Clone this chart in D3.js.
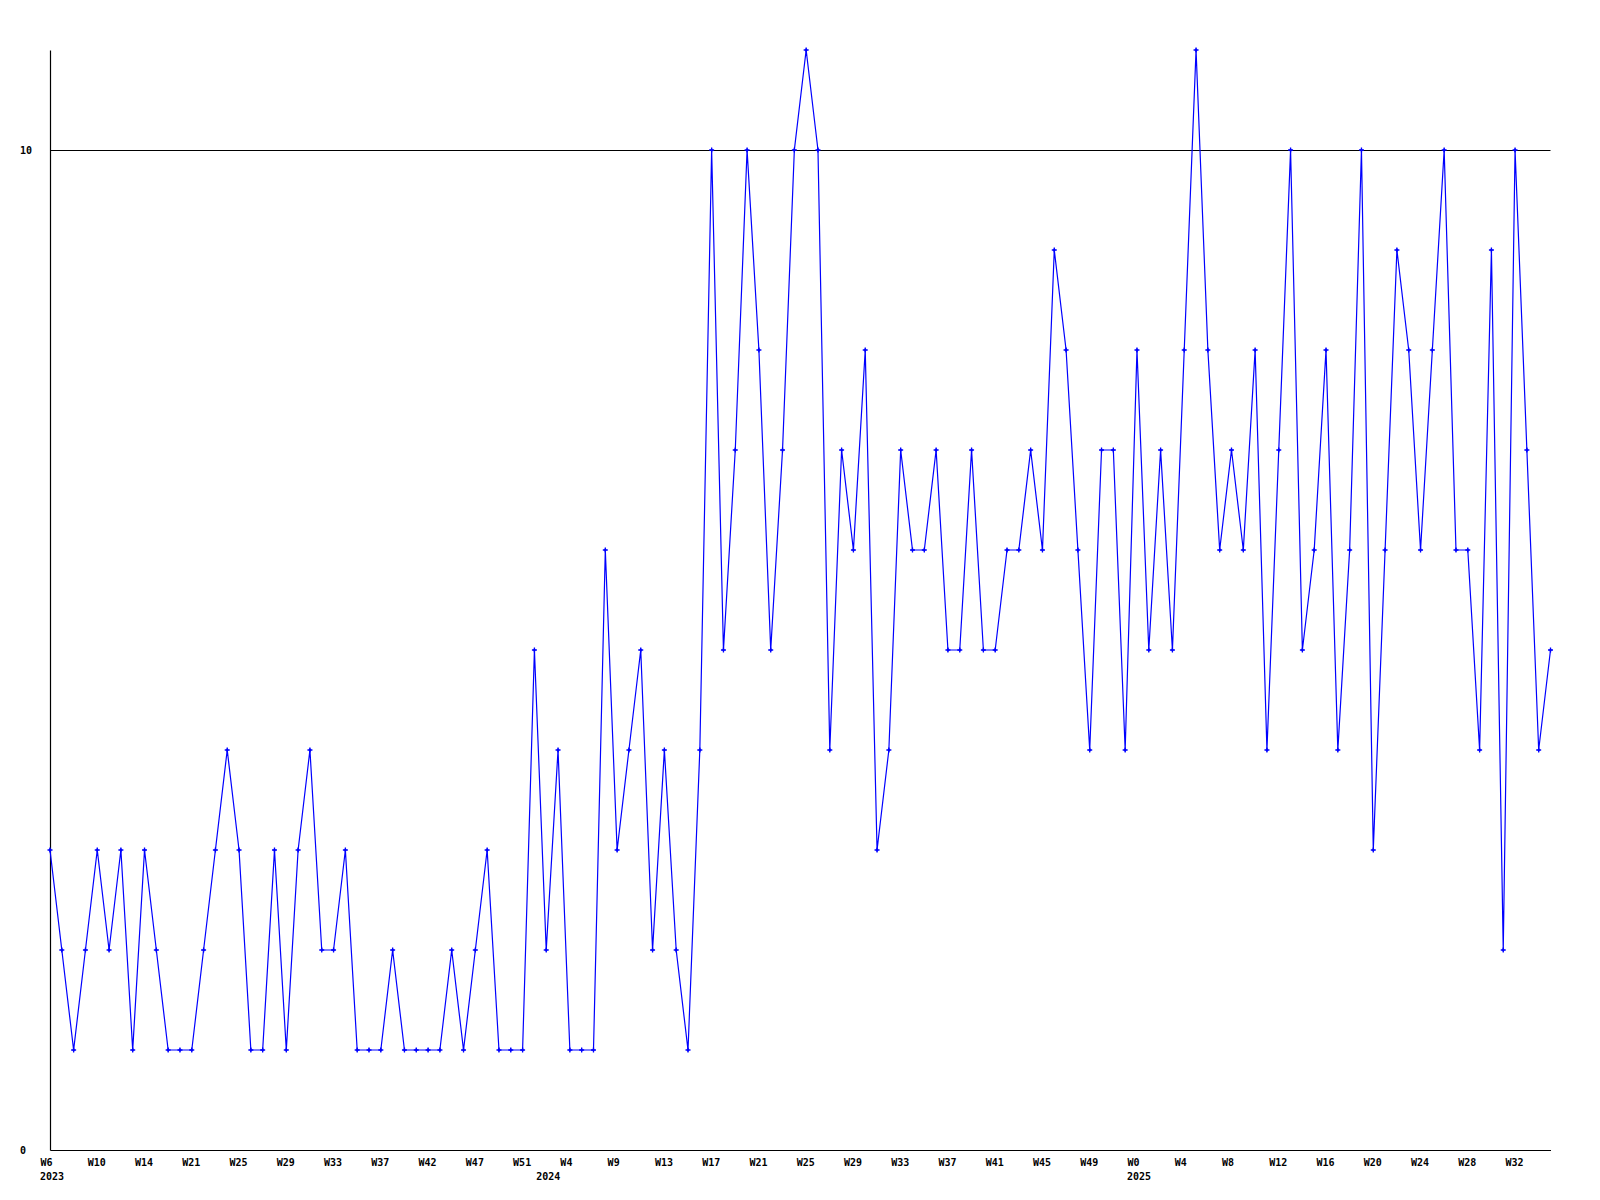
<!DOCTYPE html>
<html>
<head>
<meta charset="utf-8">
<script src="https://cdn.jsdelivr.net/npm/d3@7"></script>
<style>
  html, body { margin: 0; padding: 0; background: #fff; }
  svg { display: block; }
  text { font-family: "DejaVu Sans Mono", monospace; font-weight: bold; font-size: 10px; fill: #000; }
</style>
</head>
<body>
<svg id="chart" width="1600" height="1200"></svg>
<script>
// ---- data ----
const categories = [
  "2023-W6","2023-W7","2023-W8","2023-W9","2023-W10","2023-W11","2023-W12","2023-W13","2023-W14","2023-W18",
  "2023-W19","2023-W20","2023-W21","2023-W22","2023-W23","2023-W24","2023-W25","2023-W26","2023-W27","2023-W28",
  "2023-W29","2023-W30","2023-W31","2023-W32","2023-W33","2023-W34","2023-W35","2023-W36","2023-W37","2023-W38",
  "2023-W39","2023-W41","2023-W42","2023-W44","2023-W45","2023-W46","2023-W47","2023-W48","2023-W49","2023-W50",
  "2023-W51","2023-W52",
  "2024-W1","2024-W2","2024-W4","2024-W6","2024-W7","2024-W8","2024-W9","2024-W10","2024-W11","2024-W12",
  "2024-W13","2024-W14","2024-W15","2024-W16","2024-W17","2024-W18","2024-W19","2024-W20","2024-W21","2024-W22",
  "2024-W23","2024-W24","2024-W25","2024-W26","2024-W27","2024-W28","2024-W29","2024-W30","2024-W31","2024-W32",
  "2024-W33","2024-W34","2024-W35","2024-W36","2024-W37","2024-W38","2024-W39","2024-W40","2024-W41","2024-W42",
  "2024-W43","2024-W44","2024-W45","2024-W46","2024-W47","2024-W48","2024-W49","2024-W50","2024-W51","2024-W52",
  "2025-W0","2025-W1","2025-W2","2025-W3","2025-W4","2025-W5","2025-W6","2025-W7","2025-W8","2025-W9",
  "2025-W10","2025-W11","2025-W12","2025-W13","2025-W14","2025-W15","2025-W16","2025-W17","2025-W18","2025-W19",
  "2025-W20","2025-W21","2025-W22","2025-W23","2025-W24","2025-W25","2025-W26","2025-W27","2025-W28","2025-W29",
  "2025-W30","2025-W31","2025-W32","2025-W33","2025-W34","2025-W35"
];

const values = [
  3,2,1,2,3,2,3,1,3,2,
  1,1,1,2,3,4,3,1,1,3,
  1,3,4,2,2,3,1,1,1,2,
  1,1,1,1,2,1,2,3,1,1,
  1,5,2,4,1,1,1,6,3,4,
  5,2,4,2,1,4,10,5,7,10,
  8,5,7,10,11,10,4,7,6,8,
  3,4,7,6,6,7,5,5,7,5,
  5,6,6,7,6,9,8,6,4,7,
  7,4,8,5,7,5,8,11,8,6,
  7,6,8,4,7,10,5,6,8,4,
  6,10,3,6,9,8,6,8,10,6,
  6,4,9,2,10,7,4,5
];

const yTickValues = [0, 10];
const gridValues = [10];
const xTickEvery = 4;

// ---- chart ----
(function () {
const svg = d3.select("#chart");
const mLeft = 50, mRight = 1550.5, mTop = 50, mBottom = 1150;

const x = d3.scalePoint().domain(categories).range([mLeft, mRight]);
const y = d3.scaleLinear().domain([0, 11]).range([mBottom, mTop]);

// grid line
svg.append("g").selectAll("line").data(gridValues).join("line")
  .attr("x1", mLeft).attr("x2", mRight)
  .attr("y1", d => Math.round(y(d)) + 0.5).attr("y2", d => Math.round(y(d)) + 0.5)
  .attr("stroke", "#000").attr("stroke-width", 1);

// x axis
const xTicks = categories.filter((d, i) => i % xTickEvery === 0);
const xAxis = d3.axisBottom(x).tickValues(xTicks).tickSize(0).tickSizeOuter(0)
  .tickFormat(d => d.split("-")[1]);
const gx = svg.append("g").attr("transform", `translate(0,${mBottom})`).call(xAxis);
gx.select(".domain").attr("stroke", "#000").attr("stroke-width", 1.2);
gx.selectAll(".tick text")
  .attr("text-anchor", "start").attr("x", -10).attr("y", 16).attr("dy", null)
  .style("font-family", "DejaVu Sans Mono, monospace").style("font-size", "10px")
  .style("font-weight", "bold").attr("fill", "#000");

// year labels
const yearStarts = categories.filter((d, i) => i === 0 || d.split("-")[0] !== categories[i - 1].split("-")[0]);
svg.append("g").selectAll("text").data(yearStarts).join("text")
  .attr("x", d => x(d) - 10).attr("y", mBottom + 30)
  .text(d => d.split("-")[0]);

// y axis
const yAxis = d3.axisLeft(y).tickValues(yTickValues).tickSize(0).tickSizeOuter(0);
const gy = svg.append("g").attr("transform", `translate(${mLeft},0)`).call(yAxis);
gy.select(".domain").attr("stroke", "#000").attr("stroke-width", 1.2);
gy.selectAll(".tick text")
  .attr("text-anchor", "start").attr("x", -30).attr("dy", "0.35em")
  .style("font-family", "DejaVu Sans Mono, monospace").style("font-size", "10px")
  .style("font-weight", "bold").attr("fill", "#000");

// line
const line = d3.line().x((d, i) => x(categories[i])).y(d => y(d));
svg.append("path").datum(values)
  .attr("d", line).attr("fill", "none")
  .attr("stroke", "#0000ff").attr("stroke-width", 1.2);

// markers
const marker = svg.append("g").selectAll("g").data(values).join("g")
  .attr("transform", (d, i) => `translate(${x(categories[i])},${y(d)})`);
marker.append("path")
  .attr("d", "M-2.5,0H2.5M0,-2.5V2.5")
  .attr("stroke", "#0000ff").attr("stroke-width", 1.3).attr("fill", "none");
marker.append("path")
  .attr("d", d3.symbol().type(d3.symbolDiamond).size(6)())
  .attr("fill", "#0000ff");
})();
</script>
</body>
</html>
